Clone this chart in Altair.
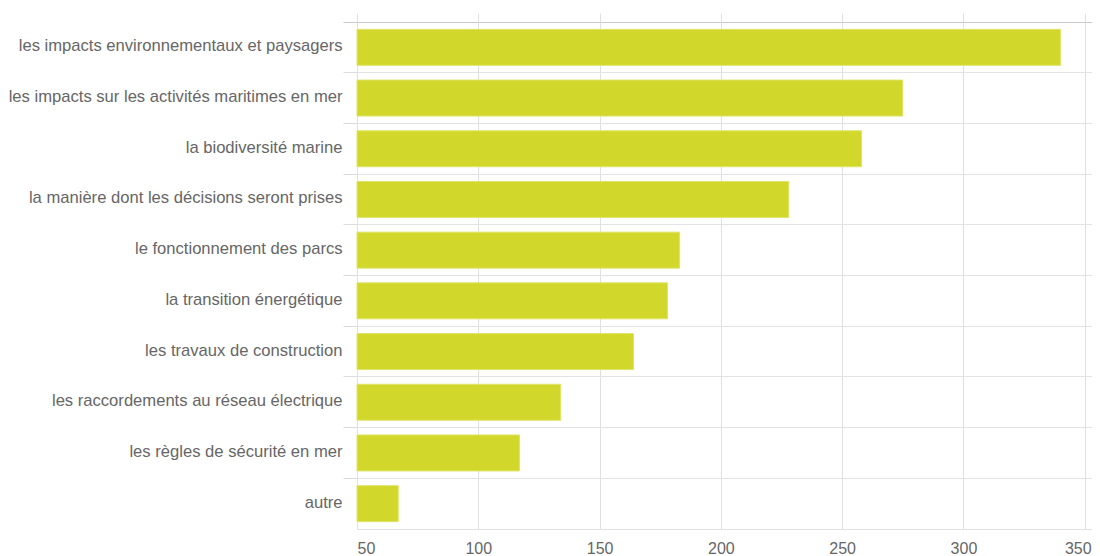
import altair as alt
import pandas as pd

categories = [
    "les impacts environnementaux et paysagers",
    "les impacts sur les activités maritimes en mer",
    "la biodiversité marine",
    "la manière dont les décisions seront prises",
    "le fonctionnement des parcs",
    "la transition énergétique",
    "les travaux de construction",
    "les raccordements au réseau électrique",
    "les règles de sécurité en mer",
    "autre",
]
values = [340, 275, 258, 228, 183, 178, 164, 134, 117, 67]
x_ticks = [50, 100, 150, 200, 250, 300, 350]

df = pd.DataFrame({"cat": categories, "val": values})

FONT = "Liberation Sans"
H = 507

yaxis = alt.Axis(
    title=None,
    domain=False,
    bandPosition=0,
    tickSize=14,
    tickColor=alt.expr("datum.index == 0 ? '#c8c8c8' : '#dcdcdc'"),
    labelPadding=1,
    labelOffset=-1,
    labelFont=FONT,
    labelFontSize=16.6,
    labelColor="#666666",
    labelLimit=400,
    grid=True,
    gridColor=alt.expr("datum.index == 0 ? '#c8c8c8' : '#e3e3e3'"),
)
yscale = alt.Scale(paddingInner=0, paddingOuter=0)

xscale = alt.Scale(domain=[50, 353], nice=False, zero=False)

bars = alt.Chart(df).mark_bar(color="#d1d82b", height=36, stroke="#dfe46a", strokeWidth=1).encode(
    x=alt.X(
        "val:Q",
        scale=xscale,
        axis=alt.Axis(
            title=None,
            values=x_ticks,
            orient="bottom",
            ticks=False,
            labelPadding=11,
            labelOffset=alt.expr("datum.value == 350 ? -7 : 0"),
            labelFont=FONT,
            labelFontSize=16,
            labelColor="#666666",
            domainColor="#e0e0e0",
            grid=True,
            gridColor="#e0e0e0",
        ),
    ),
    x2=alt.X2(datum=50),
    y=alt.Y("cat:N", sort=categories, scale=yscale, axis=yaxis),
)

top = alt.Chart(df).mark_bar(opacity=0).encode(
    x=alt.X(
        "val:Q",
        scale=xscale,
        axis=alt.Axis(
            title=None,
            values=x_ticks,
            orient="top",
            tickSize=9,
            tickColor="#e0e0e0",
            labels=False,
            domain=False,
            grid=False,
        ),
    ),
    x2=alt.X2(datum=50),
    y=alt.Y("cat:N", sort=categories, scale=yscale, axis=yaxis),
)

chart = (
    alt.layer(bars, top)
    .resolve_axis(x="independent")
    .properties(
        width=735,
        height=H,
        autosize=alt.AutoSizeParams(type="none"),
        padding={"left": 349, "top": 14, "right": 0, "bottom": 30},
    )
    .configure_view(stroke=None)
)

chart.save("out.html", embed_options={"renderer": "svg", "actions": False})
